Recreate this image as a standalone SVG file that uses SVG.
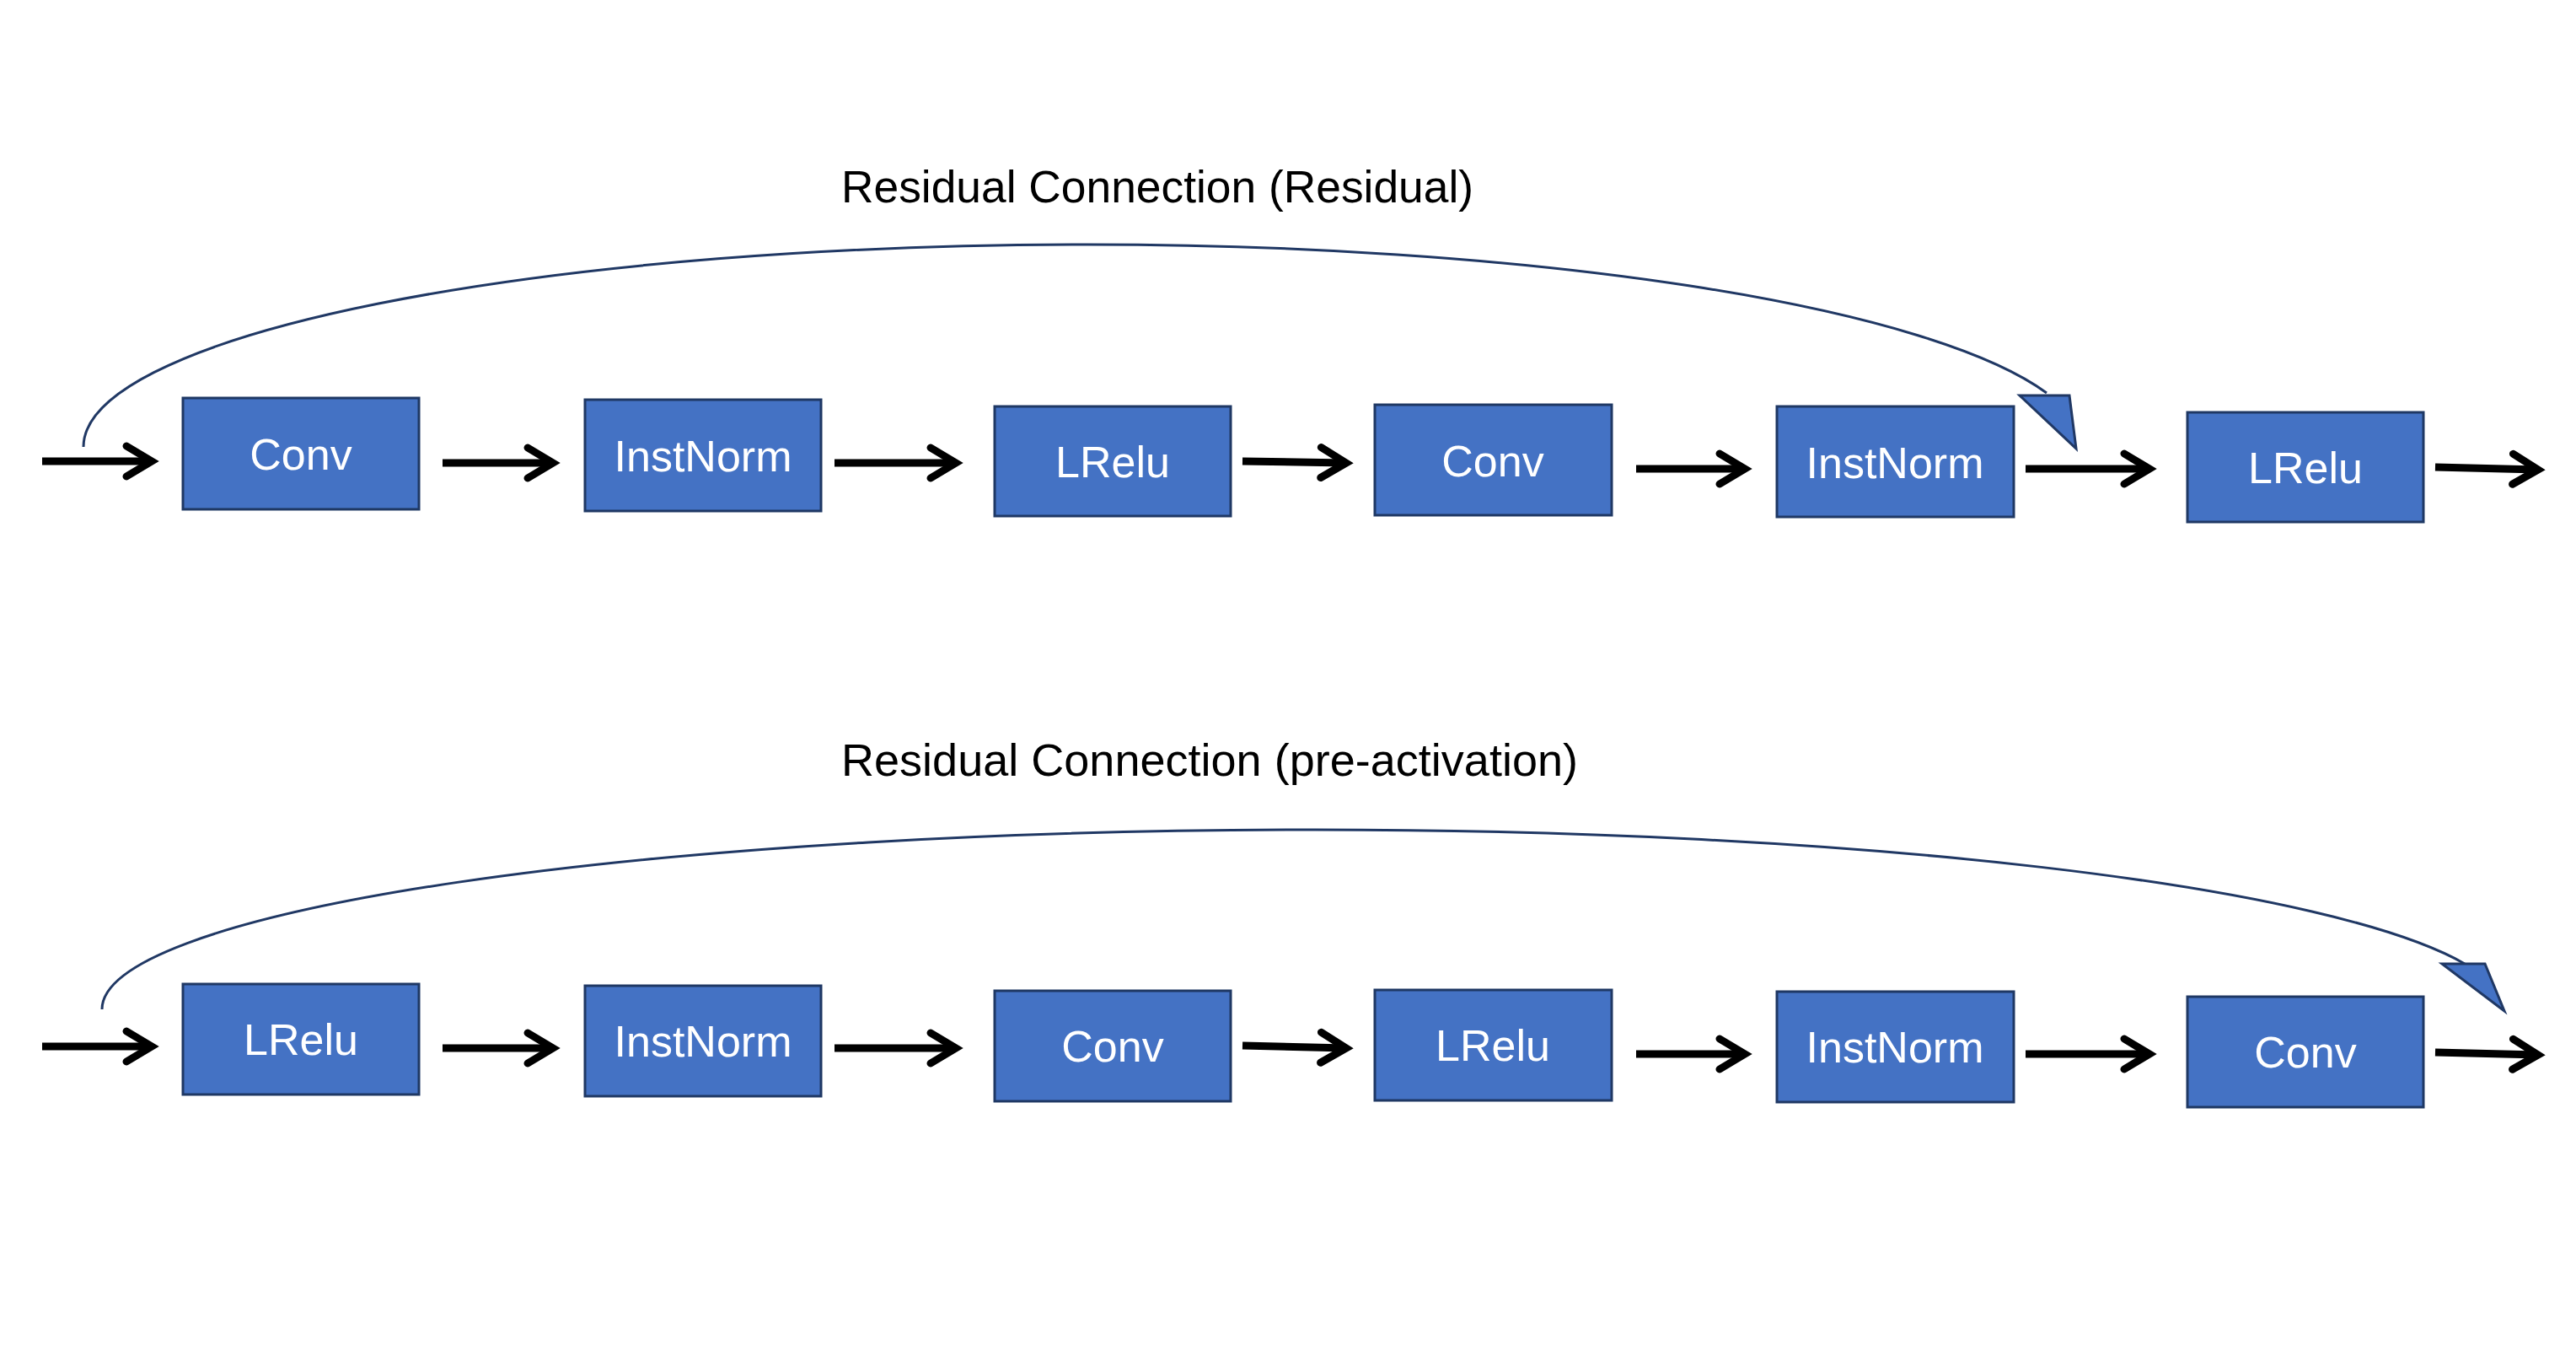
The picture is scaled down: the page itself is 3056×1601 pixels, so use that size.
<svg xmlns="http://www.w3.org/2000/svg" width="3056" height="1601" viewBox="0 0 3056 1601">
<style>
.box{fill:#4472C4;stroke:#1F3864;stroke-width:3}
.lbl{fill:#fff;font-family:"Liberation Sans",Arial,sans-serif;font-size:52px;text-anchor:middle}
.title{fill:#000;font-family:"Liberation Sans",Arial,sans-serif;font-size:53.5px}
.arr{stroke:#000;stroke-width:9;fill:none;marker-end:url(#chev)}
.skip{stroke:#203864;stroke-width:3;fill:none}
.head{fill:#4472C4;stroke:#203864;stroke-width:3;stroke-linejoin:miter}
</style>
<defs>
<marker id="chev" markerUnits="userSpaceOnUse" viewBox="-44 -28 58 56" markerWidth="58" markerHeight="56" refX="0" refY="0" orient="auto">
<path d="M-30,-18 L0,0 L-30,18" fill="none" stroke="#000" stroke-width="9" stroke-linecap="round" stroke-linejoin="miter"/>
</marker>
</defs>
<rect width="3056" height="1601" fill="#fff"/>
<text class="title" x="998" y="240" textLength="750" lengthAdjust="spacingAndGlyphs">Residual Connection (Residual)</text>
<text class="title" x="998" y="920" textLength="874" lengthAdjust="spacingAndGlyphs">Residual Connection (pre-activation)</text>
<g id="top-nodes">
<g id="t1"><rect class="box" x="217" y="472" width="280" height="132"/><text class="lbl" x="357" y="557">Conv</text></g>
<g id="t2"><rect class="box" x="694" y="474" width="280" height="132"/><text class="lbl" x="834" y="559">InstNorm</text></g>
<g id="t3"><rect class="box" x="1180" y="482" width="280" height="130"/><text class="lbl" x="1320" y="566">LRelu</text></g>
<g id="t4"><rect class="box" x="1631" y="480" width="281" height="131"/><text class="lbl" x="1771" y="565">Conv</text></g>
<g id="t5"><rect class="box" x="2108" y="482" width="281" height="131"/><text class="lbl" x="2248" y="567">InstNorm</text></g>
<g id="t6"><rect class="box" x="2595" y="489" width="280" height="130"/><text class="lbl" x="2735" y="573">LRelu</text></g>
</g>
<g id="bottom-nodes">
<g id="b1"><rect class="box" x="217" y="1167" width="280" height="131"/><text class="lbl" x="357" y="1251">LRelu</text></g>
<g id="b2"><rect class="box" x="694" y="1169" width="280" height="131"/><text class="lbl" x="834" y="1253">InstNorm</text></g>
<g id="b3"><rect class="box" x="1180" y="1175" width="280" height="131"/><text class="lbl" x="1320" y="1259">Conv</text></g>
<g id="b4"><rect class="box" x="1631" y="1174" width="281" height="131"/><text class="lbl" x="1771" y="1258">LRelu</text></g>
<g id="b5"><rect class="box" x="2108" y="1176" width="281" height="131"/><text class="lbl" x="2248" y="1260">InstNorm</text></g>
<g id="b6"><rect class="box" x="2595" y="1182" width="280" height="131"/><text class="lbl" x="2735" y="1266">Conv</text></g>
</g>
<g id="connectors">
<path class="arr" d="M50,547 L180,547"/>
<path class="arr" d="M525,549 L656,549"/>
<path class="arr" d="M990,549 L1134,549"/>
<path class="arr" d="M1474,547 L1597,549"/>
<path class="arr" d="M1941,556 L2070,556"/>
<path class="arr" d="M2403,556 L2550,556"/>
<path class="arr" d="M2889,554 L3011,557"/>
<path class="arr" d="M50,1241 L180,1241"/>
<path class="arr" d="M525,1243 L656,1243"/>
<path class="arr" d="M990,1243 L1134,1243"/>
<path class="arr" d="M1474,1240 L1597,1243"/>
<path class="arr" d="M1941,1250 L2070,1250"/>
<path class="arr" d="M2403,1250 L2550,1250"/>
<path class="arr" d="M2889,1248 L3011,1251"/>
<path class="skip" d="M99,530 A1191,240 0 0 1 1290,290 A1181,240 0 0 1 2428,466"/>
<polygon class="head" points="2396,469 2455,469 2463,532"/>
<path class="skip" d="M121,1197 A1439,213 0 0 1 1560,984 A1410,213 0 0 1 2924,1143"/>
<polygon class="head" points="2897,1143 2948,1143 2971,1199"/>
</g>
</svg>
